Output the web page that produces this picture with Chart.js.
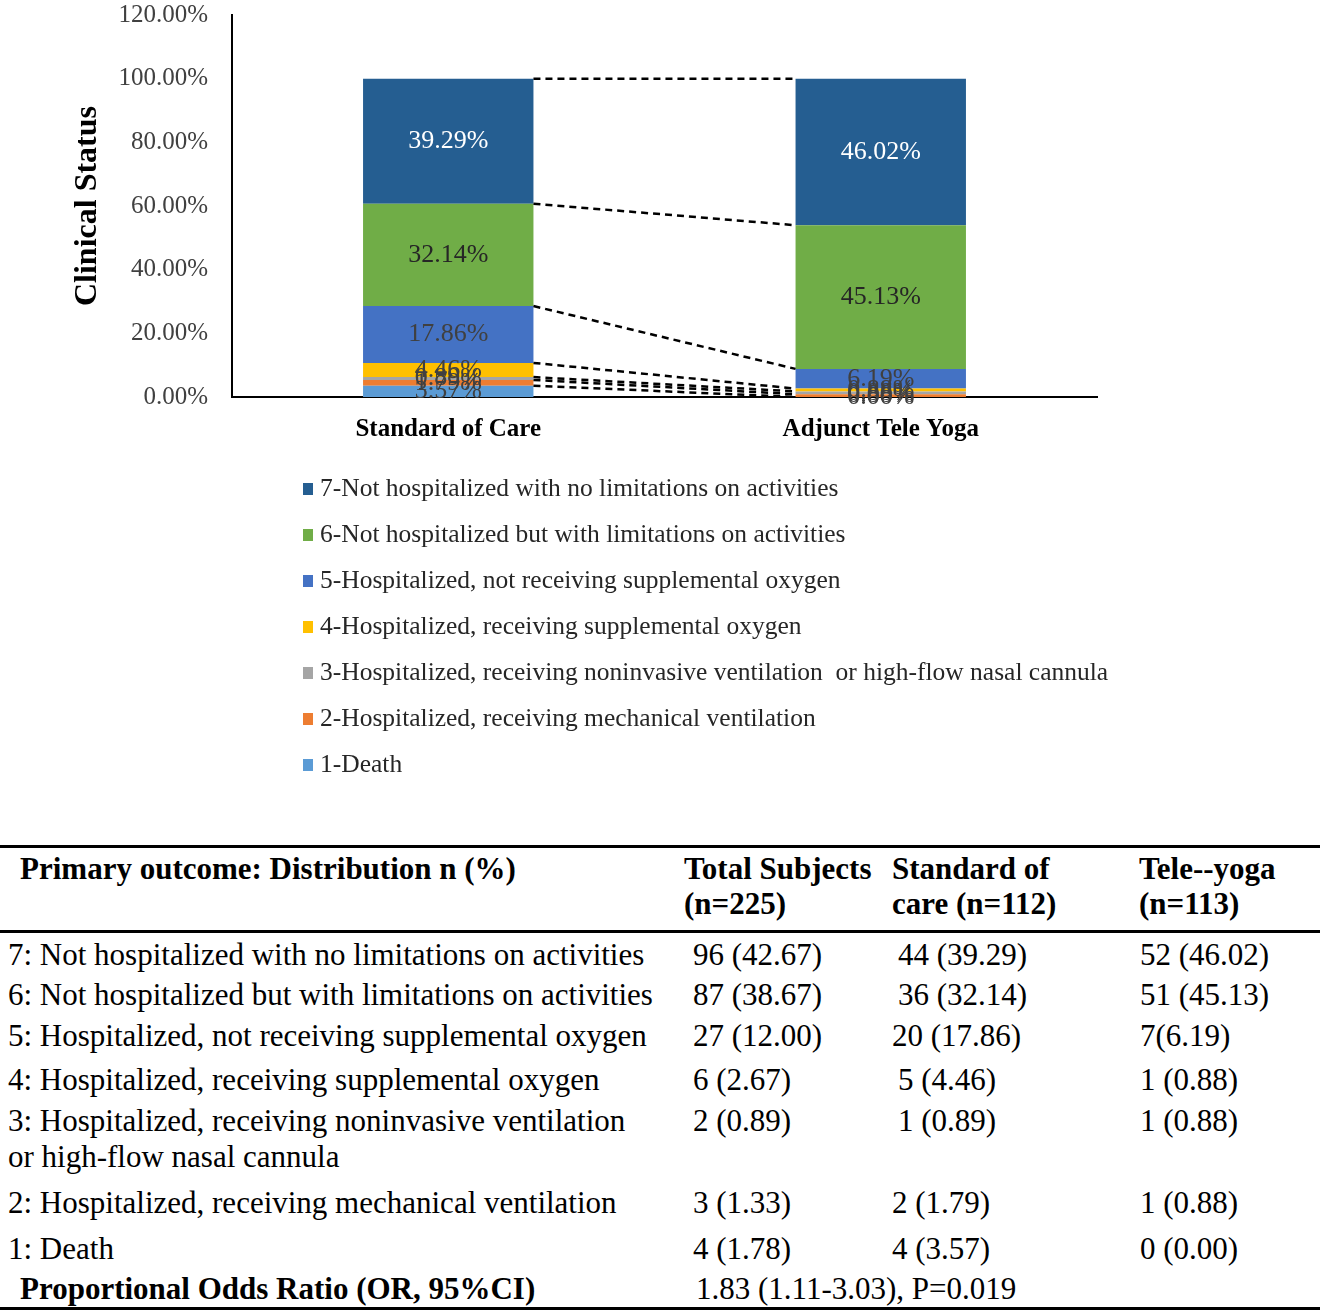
<!DOCTYPE html>
<html>
<head>
<meta charset="utf-8">
<script src="https://cdn.jsdelivr.net/npm/chart.js@4.4.0/dist/chart.umd.min.js"></script>
<style>
html,body{margin:0;padding:0;background:#fff;}
#page{position:relative;width:1325px;height:1316px;overflow:hidden;background:#fff;}
#chartBox{position:absolute;left:0;top:-24px;width:1325px;height:824px;}
#tbl{position:absolute;left:0;top:845px;width:1320px;border-collapse:collapse;table-layout:fixed;
  font-family:'Liberation Serif','Times New Roman',serif;font-size:31px;color:#000;
  border-top:3px solid #000;border-bottom:3px solid #000;}
#tbl td{padding:4px 0 0 0;vertical-align:top;line-height:36px;white-space:nowrap;overflow:visible;}
#tbl thead td{font-weight:bold;line-height:35px;padding-top:3px;}
#tbl thead tr{border-bottom:3px solid #000;}
</style>
</head>
<body>
<div id="page">
  <div id="chartBox"><canvas id="c"></canvas></div>
  <table id="tbl">
    <colgroup><col style="width:680px"><col style="width:208px"><col style="width:247px"><col style="width:185px"></colgroup>
    <thead></thead>
    <tbody></tbody>
  </table>
</div>
<script>
// ---------- chart data ----------
const categories = ['Standard of Care', 'Adjunct Tele Yoga'];
const statusLabels = [
  '1-Death',
  '2-Hospitalized, receiving mechanical ventilation',
  '3-Hospitalized, receiving noninvasive ventilation  or high-flow nasal cannula',
  '4-Hospitalized, receiving supplemental oxygen',
  '5-Hospitalized, not receiving supplemental oxygen',
  '6-Not hospitalized but with limitations on activities',
  '7-Not hospitalized with no limitations on activities'
];
const death          = [3.57, 0.00];
const mechVent       = [1.79, 0.88];
const noninvasive    = [0.89, 0.88];
const suppOxygen     = [4.46, 0.88];
const notSuppOxygen  = [17.86, 6.19];
const withLimits     = [32.14, 45.13];
const noLimits       = [39.29, 46.02];
const seriesValues = [death, mechVent, noninvasive, suppOxygen, notSuppOxygen, withLimits, noLimits];
const yAxisTitle = 'Clinical Status';

// ---------- table data ----------
const tableHeader = ['Primary outcome: Distribution n (%)', 'Total Subjects<br>(n=225)', 'Standard of<br>care (n=112)', 'Tele--yoga<br>(n=113)'];
const outcomeLabels = [
  '7: Not hospitalized with no limitations on activities',
  '6: Not hospitalized but with limitations on activities',
  '5: Hospitalized, not receiving supplemental oxygen',
  '4: Hospitalized, receiving supplemental oxygen',
  '3: Hospitalized, receiving noninvasive ventilation<br>or high-flow nasal cannula',
  '2: Hospitalized, receiving mechanical ventilation',
  '1: Death'
];
const totalCol = ['96 (42.67)', '87 (38.67)', '27 (12.00)', '6 (2.67)', '2 (0.89)', '3 (1.33)', '4 (1.78)'];
const socCol   = ['44 (39.29)', '36 (32.14)', '20 (17.86)', '5 (4.46)', '1 (0.89)', '2 (1.79)', '4 (3.57)'];
const yogaCol  = ['52 (46.02)', '51 (45.13)', '7(6.19)', '1 (0.88)', '1 (0.88)', '1 (0.88)', '0 (0.00)'];
const orLabel = 'Proportional Odds Ratio (OR, 95%CI)';
const orValue = '1.83 (1.11-3.03), P=0.019';

// ---------- styling ----------
const seriesColors = ['#5B9BD5', '#ED7D31', '#A5A5A5', '#FFC000', '#4472C4', '#70AD47', '#255E91'];
const labelColors  = ['#404040', '#404040', '#404040', '#404040', '#404040', '#262626', '#FFFFFF'];
const rowHeights = [40, 41, 44, 41, 82, 46, 40, 40];
const socPad = [10, 10, 4, 10, 10, 4, 4];

// ---------- build table ----------
const thead = document.querySelector('#tbl thead');
const tbody = document.querySelector('#tbl tbody');
thead.innerHTML = '<tr style="height:85px">' +
  '<td style="padding-left:20px">' + tableHeader[0] + '</td>' +
  '<td style="padding-left:4px">' + tableHeader[1] + '</td>' +
  '<td style="padding-left:4px">' + tableHeader[2] + '</td>' +
  '<td style="padding-left:4px">' + tableHeader[3] + '</td></tr>';
let rowsHtml = '';
outcomeLabels.forEach((lab, i) => {
  rowsHtml += '<tr style="height:' + rowHeights[i] + 'px">' +
    '<td style="padding-left:8px">' + lab + '</td>' +
    '<td style="padding-left:13px">' + totalCol[i] + '</td>' +
    '<td style="padding-left:' + socPad[i] + 'px">' + socCol[i] + '</td>' +
    '<td style="padding-left:5px">' + yogaCol[i] + '</td></tr>';
});
rowsHtml += '<tr style="height:' + rowHeights[7] + 'px">' +
  '<td style="padding-left:20px;font-weight:bold">' + orLabel + '</td>' +
  '<td colspan="3" style="padding-left:16px">' + orValue + '</td></tr>';
tbody.innerHTML = rowsHtml;

// ---------- plugins ----------
const connectorPlugin = {
  id: 'connectors',
  afterDatasetsDraw(chart) {
    const ctx = chart.ctx;
    ctx.save();
    ctx.setLineDash([7, 5]);
    ctx.lineWidth = 2.5;
    ctx.strokeStyle = '#000';
    chart.data.datasets.forEach((ds, i) => {
      const meta = chart.getDatasetMeta(i);
      const a = meta.data[0], b = meta.data[1];
      ctx.beginPath();
      ctx.moveTo(a.x + a.width / 2, a.y);
      ctx.lineTo(b.x - b.width / 2, b.y);
      ctx.stroke();
    });
    ctx.restore();
  }
};

const valueLabelPlugin = {
  id: 'valueLabels',
  afterDatasetsDraw(chart) {
    const ctx = chart.ctx;
    ctx.save();
    ctx.font = '26px "Liberation Serif", "Times New Roman", serif';
    ctx.textAlign = 'center';
    ctx.textBaseline = 'middle';
    chart.data.datasets.forEach((ds, i) => {
      const meta = chart.getDatasetMeta(i);
      meta.data.forEach((el, j) => {
        ctx.fillStyle = labelColors[i];
        ctx.fillText(ds.data[j].toFixed(2) + '%', el.x, (el.y + el.base) / 2);
      });
    });
    ctx.restore();
  }
};

const stackLegendPlugin = {
  id: 'stackLegend',
  afterDraw(chart, args, opts) {
    const ctx = chart.ctx;
    ctx.save();
    ctx.font = opts.font;
    ctx.textBaseline = 'middle';
    ctx.textAlign = 'left';
    const n = chart.data.datasets.length;
    for (let k = 0; k < n; k++) {
      const ds = chart.data.datasets[n - 1 - k];
      const y = opts.top + k * opts.gap;
      ctx.fillStyle = ds.backgroundColor;
      ctx.fillRect(opts.x, y - 6, 10, 12);
      ctx.fillStyle = opts.color;
      ctx.fillText(ds.label, opts.x + 17, y);
    }
    ctx.restore();
  }
};

// ---------- chart ----------
new Chart(document.getElementById('c'), {
  type: 'bar',
  data: {
    labels: categories,
    datasets: seriesValues.map((vals, i) => ({
      label: statusLabels[i],
      data: vals,
      backgroundColor: seriesColors[i],
      borderWidth: 0,
      categoryPercentage: 1,
      barPercentage: 0.394
    }))
  },
  options: {
    responsive: true,
    maintainAspectRatio: false,
    animation: false,
    layout: { padding: { left: 0, right: 228, top: 0, bottom: 343 } },
    plugins: {
      legend: { display: false },
      tooltip: { enabled: false },
      stackLegend: { x: 303, top: 513, gap: 46, font: '25.5px "Liberation Serif", "Times New Roman", serif', color: '#262626' }
    },
    scales: {
      x: {
        stacked: true,
        grid: { display: false, drawTicks: false },
        border: { display: true, color: '#000', width: 2 },
        ticks: { color: '#000', padding: 18, font: { family: 'Liberation Serif', size: 25, weight: 'bold' } },
        afterFit(s) { s.height = 60; }
      },
      y: {
        stacked: true,
        min: 0,
        max: 120,
        grid: { display: false, drawTicks: false },
        border: { display: true, color: '#000', width: 2 },
        ticks: {
          stepSize: 20,
          padding: 24,
          color: '#404040',
          font: { family: 'Liberation Serif', size: 25 },
          callback: v => Number(v).toFixed(2) + '%'
        },
        title: {
          display: true,
          text: yAxisTitle,
          color: '#000',
          font: { family: 'Liberation Serif', size: 32, weight: 'bold' },
          padding: { top: 69, bottom: 0 }
        },
        afterFit(s) { s.width = 232; }
      }
    }
  },
  plugins: [connectorPlugin, valueLabelPlugin, stackLegendPlugin]
});
</script>
</body>
</html>
